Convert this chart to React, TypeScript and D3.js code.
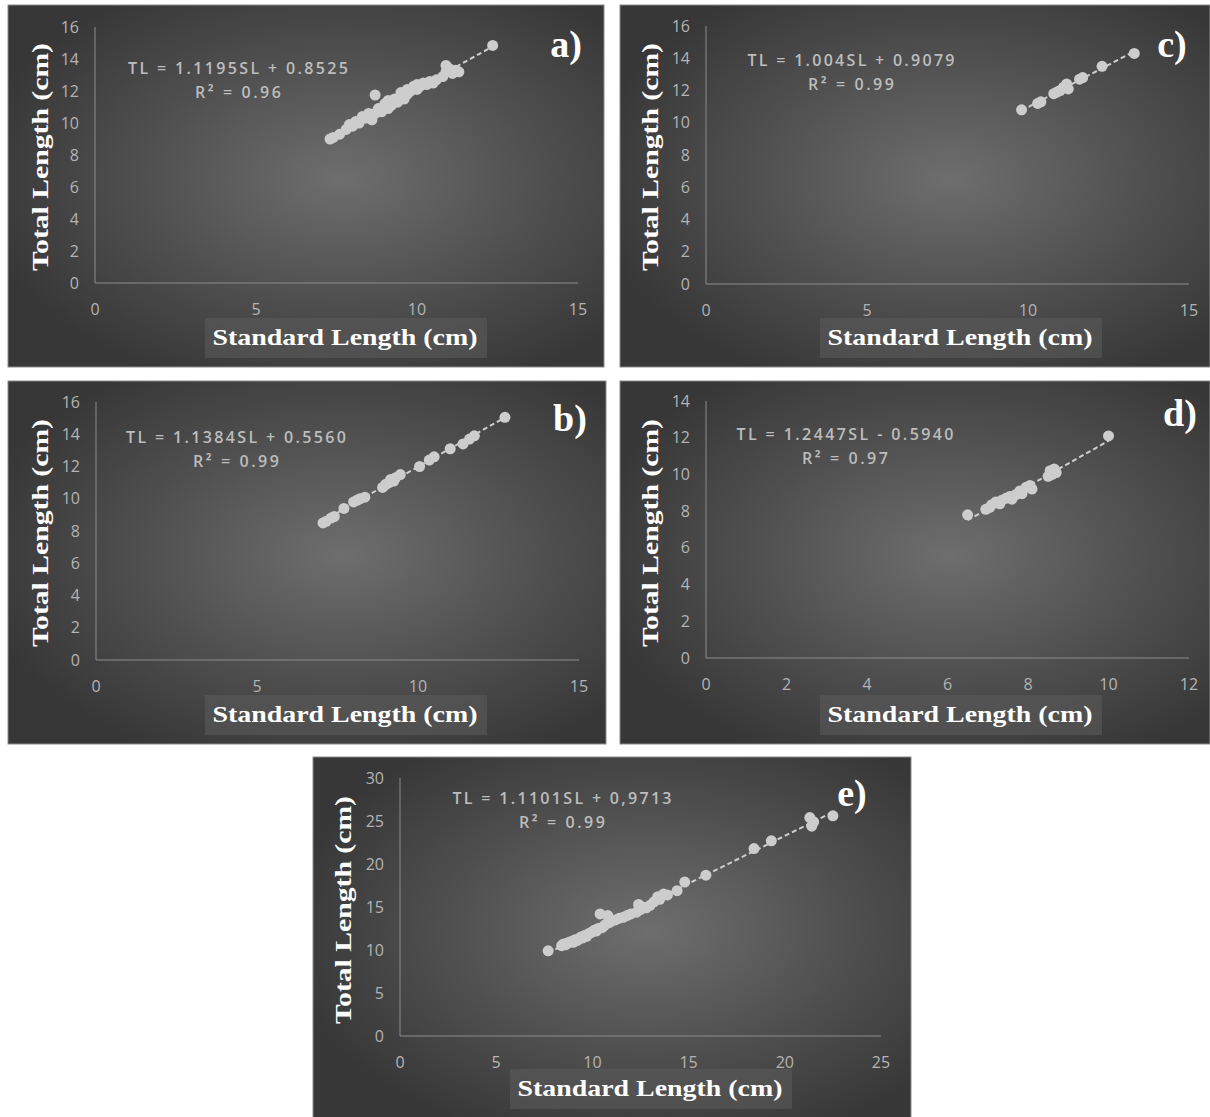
import * as d3 from "d3";

// ---- data (SL, TL in cm) ----
const pointsA: [number, number][] = [
  [7.3, 9.0], [7.4, 9.1], [7.6, 9.3], [7.8, 9.6], [7.9, 9.9], [8.0, 9.8], [8.1, 10.1], [8.2, 10.0],
  [8.3, 10.4], [8.4, 10.3], [8.5, 10.6], [8.6, 10.2], [8.7, 11.75], [8.7, 10.6], [8.8, 10.9], [8.9, 10.7],
  [9.0, 11.2], [9.1, 10.9], [9.1, 11.4], [9.2, 11.1], [9.3, 11.5], [9.4, 11.3], [9.5, 11.6], [9.5, 11.9],
  [9.6, 11.5], [9.7, 11.8], [9.7, 12.1], [9.8, 12.0], [9.9, 12.3], [10.0, 12.1], [10.0, 12.4], [10.1, 12.3],
  [10.2, 12.5], [10.3, 12.4], [10.4, 12.6], [10.5, 12.5], [10.6, 12.7], [10.8, 12.9], [10.9, 13.6], [10.9, 13.2],
  [11.0, 13.4], [11.1, 13.1], [11.2, 13.3], [11.3, 13.2], [12.35, 14.85],
];
const pointsB: [number, number][] = [
  [7.05, 8.5], [7.15, 8.6], [7.3, 8.8], [7.4, 8.9], [7.7, 9.4], [8.0, 9.8], [8.1, 9.9], [8.2, 10.0],
  [8.35, 10.1], [8.9, 10.7], [9.0, 10.9], [9.1, 11.0], [9.15, 11.2], [9.25, 11.1], [9.3, 11.3], [9.45, 11.5],
  [10.05, 12.0], [10.35, 12.4], [10.5, 12.6], [11.0, 13.1], [11.4, 13.4], [11.6, 13.7], [11.75, 13.9], [12.7, 15.05],
];
const pointsC: [number, number][] = [
  [9.8, 10.8], [10.3, 11.2], [10.4, 11.3], [10.8, 11.8], [10.9, 11.9], [11.0, 12.0], [11.1, 12.2],
  [11.2, 12.4], [11.25, 12.1], [11.6, 12.7], [11.7, 12.8], [12.3, 13.5], [13.3, 14.3],
];
const pointsD: [number, number][] = [
  [6.5, 7.8], [6.95, 8.1], [7.05, 8.2], [7.1, 8.35], [7.2, 8.5], [7.3, 8.4], [7.35, 8.6], [7.45, 8.7],
  [7.55, 8.8], [7.6, 8.65], [7.7, 8.9], [7.8, 9.1], [7.85, 8.95], [7.95, 9.3], [8.05, 9.4], [8.1, 9.2],
  [8.5, 9.9], [8.55, 10.2], [8.6, 10.0], [8.65, 10.3], [8.7, 10.1], [10.0, 12.1],
];
const pointsE: [number, number][] = [
  [7.7, 9.9], [8.4, 10.5], [8.5, 10.7], [8.6, 10.6], [8.7, 10.8], [8.8, 10.9], [8.9, 11.0], [9.0, 10.9],
  [9.1, 11.2], [9.2, 11.1], [9.3, 11.3], [9.4, 11.5], [9.5, 11.4], [9.6, 11.7], [9.7, 11.6], [9.8, 11.9],
  [9.9, 12.0], [10.0, 12.1], [10.1, 12.3], [10.2, 12.2], [10.3, 12.5], [10.4, 14.2], [10.5, 12.6], [10.6, 12.8],
  [10.7, 13.0], [10.8, 14.0], [10.9, 13.2], [11.0, 13.4], [11.2, 13.5], [11.4, 13.7], [11.6, 13.8], [11.8, 14.0],
  [12.0, 14.2], [12.3, 14.4], [12.4, 15.3], [12.5, 14.7], [12.6, 15.0], [12.8, 14.9], [13.0, 15.2], [13.2, 15.6],
  [13.4, 16.2], [13.5, 15.9], [13.7, 16.5], [13.9, 16.4], [14.4, 16.9], [14.8, 17.9], [15.9, 18.7], [18.4, 21.8],
  [19.3, 22.7], [21.3, 25.4], [21.4, 24.4], [21.5, 24.9], [22.5, 25.6],
];

const letters = ["a)", "b)", "c)", "d)", "e)"];
const equations = [
  "TL = 1.1195SL + 0.8525",
  "TL = 1.1384SL + 0.5560",
  "TL = 1.004SL + 0.9079",
  "TL = 1.2447SL - 0.5940",
  "TL = 1.1101SL + 0,9713",
];
const r2Labels = ["R² = 0.96", "R² = 0.99", "R² = 0.99", "R² = 0.97", "R² = 0.99"];
const xTicksList = [
  [0, 5, 10, 15],
  [0, 5, 10, 15],
  [0, 5, 10, 15],
  [0, 2, 4, 6, 8, 10, 12],
  [0, 5, 10, 15, 20, 25],
];
const yTicksList = [
  [0, 2, 4, 6, 8, 10, 12, 14, 16],
  [0, 2, 4, 6, 8, 10, 12, 14, 16],
  [0, 2, 4, 6, 8, 10, 12, 14, 16],
  [0, 2, 4, 6, 8, 10, 12, 14],
  [0, 5, 10, 15, 20, 25, 30],
];
const allPoints = [pointsA, pointsB, pointsC, pointsD, pointsE];

// ---- layout (pixels) ----
type Layout = {
  box: [number, number, number, number];
  px: [number, number];
  py: [number, number];
  eq: [number, number, number];
  letter: [number, number];
  xt: [number, number];
  yt: [number, number];
};
const layouts: Layout[] = [
  { box: [8, 5, 596, 362], px: [95, 578], py: [283, 27], eq: [238, 80, 220], letter: [566, 57], xt: [345, 345], yt: [40, 157] },
  { box: [8, 381, 598, 363], px: [96, 579], py: [660, 402], eq: [236, 449, 220], letter: [570, 431], xt: [345, 722], yt: [40, 533] },
  { box: [620, 5, 590, 362], px: [706, 1189], py: [284, 26], eq: [851, 72, 207], letter: [1172, 57], xt: [960, 345], yt: [650, 157] },
  { box: [620, 381, 590, 363], px: [706, 1189], py: [658, 401], eq: [845, 446, 217], letter: [1180, 426], xt: [960, 722], yt: [650, 533] },
  { box: [313, 757, 598, 362], px: [400, 881], py: [1036, 778], eq: [562, 810, 219], letter: [852, 806], xt: [650, 1096], yt: [343, 910] },
];

const sans = "'Open Sans', 'DejaVu Sans', sans-serif";
const serif = "'Liberation Serif', 'DejaVu Serif', serif";

function fit(pts: [number, number][]) {
  const mx = d3.mean(pts, (d) => d[0])!;
  const my = d3.mean(pts, (d) => d[1])!;
  const sxy = d3.sum(pts, (d) => (d[0] - mx) * (d[1] - my));
  const sxx = d3.sum(pts, (d) => (d[0] - mx) ** 2);
  const b = sxy / sxx;
  return { b, a: my - b * mx };
}

function Panel({ i }: { i: number }) {
  const L = layouts[i];
  const pts = allPoints[i];
  const xt = xTicksList[i];
  const yt = yTicksList[i];
  const x = d3.scaleLinear().domain([0, xt[xt.length - 1]]).range(L.px);
  const y = d3.scaleLinear().domain([0, yt[yt.length - 1]]).range(L.py);
  const { a, b } = fit(pts);
  const [x0, x1] = d3.extent(pts, (d) => d[0]) as [number, number];
  const line = d3.line<number>().x((v) => x(v)).y((v) => y(a + b * v));
  const [bx, by, bw, bh] = L.box;
  return (
    <g>
      <radialGradient id={`bg${i}`} cx="0.56" cy="0.48" r="0.62">
        <stop offset="0" stopColor="#6e6e6e" />
        <stop offset="0.55" stopColor="#4f4f4f" />
        <stop offset="1" stopColor="#373737" />
      </radialGradient>
      <rect x={bx} y={by} width={bw} height={bh} fill={`url(#bg${i})`} stroke="#8a8a8a" strokeWidth={1} />
      {/* axes */}
      <line x1={L.px[0]} x2={L.px[0]} y1={L.py[0]} y2={L.py[1]} stroke="#8c8c8c" strokeWidth={1} />
      <line x1={L.px[0]} x2={L.px[1]} y1={L.py[0]} y2={L.py[0]} stroke="#8c8c8c" strokeWidth={1} />
      {yt.map((t) => (
        <text key={t} x={L.px[0] - 16} y={y(t)} dy="0.35em" textAnchor="end" fill="#b4b4b4" fontSize={16} fontFamily={sans}>
          {t}
        </text>
      ))}
      {xt.map((t) => (
        <text key={t} x={x(t)} y={L.py[0] + 26} dy="0.35em" textAnchor="middle" fill="#b4b4b4" fontSize={16} fontFamily={sans}>
          {t}
        </text>
      ))}
      {/* axis titles */}
      <rect x={L.xt[0] - 140} y={L.xt[1] - 27} width={282} height={40} fill="#5a5a5a" opacity={0.6} />
      <text x={L.xt[0]} y={L.xt[1]} textAnchor="middle" fill="#ffffff" fontSize={24} fontWeight="bold" fontFamily={serif}
        textLength={265} lengthAdjust="spacingAndGlyphs">
        Standard Length (cm)
      </text>
      <text transform={`translate(${L.yt[0] + 8},${L.yt[1]}) rotate(-90)`} textAnchor="middle" fill="#ffffff" fontSize={24}
        fontWeight="bold" fontFamily={serif} textLength={228} lengthAdjust="spacingAndGlyphs">
        Total Length (cm)
      </text>
      {/* trend line and points */}
      <path d={line([x0, x1]) ?? ""} fill="none" stroke="#cfcfcf" strokeWidth={2} strokeDasharray="5,3" />
      {pts.map((d, k) => (
        <circle key={k} cx={x(d[0])} cy={y(d[1])} r={5.5} fill="#cdcdcd" />
      ))}
      {/* equation */}
      <text x={L.eq[0]} y={L.eq[1] - 12} dy="0.35em" textAnchor="middle" fill="#bdbdbd" fontSize={16} fontWeight={600}
        fontFamily={sans} textLength={L.eq[2]} lengthAdjust="spacing">
        {equations[i]}
      </text>
      <text x={L.eq[0]} y={L.eq[1] + 12} dy="0.35em" textAnchor="middle" fill="#bdbdbd" fontSize={16} fontWeight={600}
        fontFamily={sans} textLength={86} lengthAdjust="spacing">
        {r2Labels[i]}
      </text>
      <text x={L.letter[0]} y={L.letter[1]} textAnchor="middle" fill="#ffffff" fontSize={38} fontWeight="bold" fontFamily={serif}>
        {letters[i]}
      </text>
    </g>
  );
}

export default function App() {
  return (
    <div style={{ position: "absolute", left: 0, top: 0 }}>
      <svg width={1210} height={1117} style={{ display: "block", background: "#ffffff" }}>
        {letters.map((_, i) => (
          <Panel key={i} i={i} />
        ))}
      </svg>
    </div>
  );
}
